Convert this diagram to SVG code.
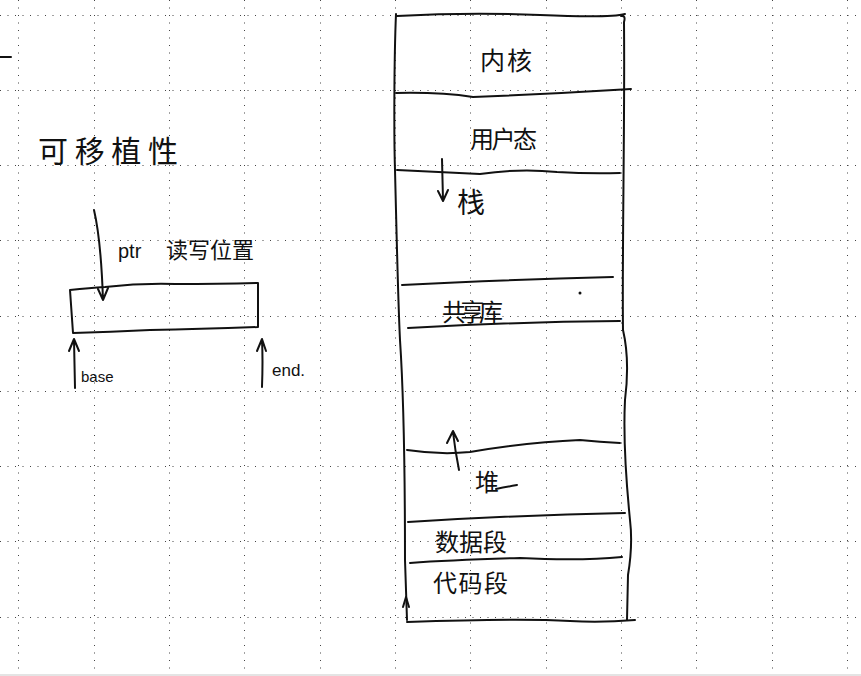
<svg xmlns="http://www.w3.org/2000/svg" width="861" height="676" viewBox="0 0 861 676">
<style>
.grid{stroke:#444;stroke-width:1;stroke-dasharray:1 6.5;fill:none}
.ink{stroke:#111;stroke-width:2;fill:none;stroke-linecap:round;stroke-linejoin:round}
.cjk{font-family:"Noto Sans CJK SC","Noto Sans",sans-serif;fill:#111}
.lat{font-family:"Liberation Sans","DejaVu Sans",sans-serif;fill:#111}
</style>
<rect width="861" height="676" fill="#fff"/>
<g id="grid">
<path class="grid" d="M0,15.5H861M0,90.5H861M0,165.5H861M0,240.5H861M0,316.5H861M0,391.5H861M0,466.5H861M0,541.5H861M0,617.5H861"/>
<path class="grid" d="M18.5,0V676M94.5,0V676M169.5,0V676M244.5,0V676M320.5,0V676M395.5,0V676M470.5,0V676M546.5,0V676M621.5,0V676M696.5,0V676M772.5,0V676M847.5,0V676"/>
</g>
<rect x="0" y="674" width="861" height="2" fill="#e4e4e4"/>
<path class="ink" d="M0,57 L11,57"/>
<g id="title"><text class="cjk" x="38" y="162" font-size="30" textLength="140">可移植性</text></g>
<g id="buffer">
<path class="ink" d="M70,290 Q90,288 105,287 Q140,283 175,284 Q220,284 258,283 L258,327 Q200,329 150,330 Q110,332 73,333 Z"/>
</g>
<g id="ptr-label"><text x="118" y="258"><tspan class="lat" font-size="20">ptr</tspan><tspan class="cjk" x="166" font-size="22">读写位置</tspan></text></g>
<g id="base-label"><text class="lat" x="81" y="382" font-size="15">base</text></g>
<g id="end-label"><text class="lat" x="272" y="376" font-size="17">end.</text></g>
<g id="memory">
<path class="ink" d="M396,14 C394,60 394,140 395,170 C397,250 398,300 400,340 C404,400 405,500 405,560 L407,620"/>
<path class="ink" d="M621,16 Q626,15 624,22 C625,120 622,250 623,330 Q630,360 625,400 C623,440 626,480 630,520 Q633,545 628,575 L627,620"/>
<path class="ink" d="M397,16 Q470,12 540,15 T625,14"/>
<path class="ink" d="M396,93 Q440,92 473,97 Q550,94 631,89"/>
<path class="ink" d="M397,170 Q440,172 480,174 Q520,168 557,172 Q590,174 620,173"/>
<path class="ink" d="M402,285 Q500,280 613,277"/>
<path class="ink" d="M408,328 Q510,322 620,321"/>
<path class="ink" d="M407,450 Q440,455 470,452 Q530,442 580,440 Q600,442 620,443"/>
<path class="ink" d="M408,522 Q520,515 625,513"/>
<path class="ink" d="M410,563 Q450,560 520,558 Q580,561 622,557"/>
<path class="ink" d="M407,622 Q520,618 570,621 Q600,623 635,620"/>
<circle cx="580" cy="293" r="1.5" fill="#111"/>
</g>
<g id="kernel"><text class="cjk" x="480" y="70" font-size="25" textLength="52">内核</text></g>
<g id="user"><text class="cjk" x="470" y="148" font-size="24" textLength="67">用户态</text></g>
<g id="stack"><text class="cjk" x="457" y="213" font-size="28">栈</text></g>
<g id="shared"><text class="cjk" x="442" y="321" font-size="24" textLength="61">共享库</text></g>
<g id="heap"><text class="cjk" x="475" y="491" font-size="24">堆</text><path class="ink" d="M496,489 Q506,487 517,485"/></g>
<g id="data"><text class="cjk" x="435" y="551" font-size="24" textLength="72">数据段</text></g>
<g id="code"><text class="cjk" x="433" y="592" font-size="24" textLength="75">代码段</text></g>
<g id="connectors">
<path class="ink" d="M94,210 Q101,240 103,300 M98,289 L103,300 L108,288"/>
<path class="ink" d="M75,388 L74,340 M69,351 L74,339 L79,351"/>
<path class="ink" d="M262,387 Q263,360 262,340 M257,351 L262,339 L266,351"/>
<path class="ink" d="M442,159 L443,200 M438,191 L443,201 L448,190"/>
<path class="ink" d="M459,470 Q455,450 453,432 M447,443 L453,431 L458,441"/>
<path class="ink" d="M403,607 L406,597 L409,607"/>
</g>
</svg>
